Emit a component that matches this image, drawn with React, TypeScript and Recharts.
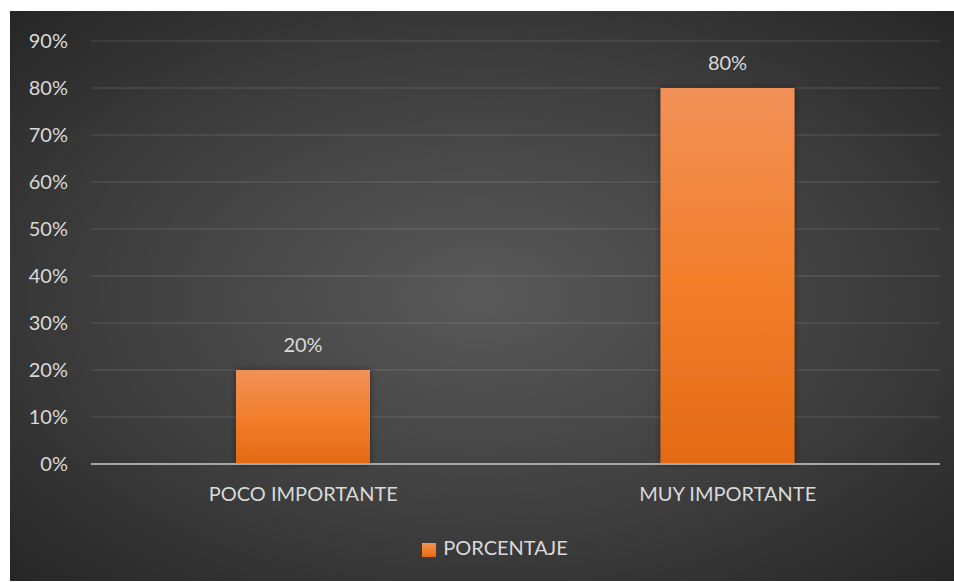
import { BarChart, Bar, XAxis, YAxis, CartesianGrid, Legend, LabelList } from "recharts";

// values
const categories = ["POCO IMPORTANTE", "MUY IMPORTANTE"];
const porcentaje = [0.2, 0.8];
const yTicks = [0, 0.1, 0.2, 0.3, 0.4, 0.5, 0.6, 0.7, 0.8, 0.9];

const data = categories.map((name, i) => ({ name, PORCENTAJE: porcentaje[i] }));

const FONT = "Lato, 'Open Sans', sans-serif";
const TEXT = "#d9d9d9";
const FS = 20;

const pct = (v: number) => `${Math.round(v * 100)}%`;

export default function App() {
  return (
    <div
      style={{
        position: "absolute",
        left: 10,
        top: 11,
        width: 944,
        height: 570,
        background: "radial-gradient(ellipse at 50% 50%, #595959 0%, #3f3f3f 55%, #262626 100%)",
        fontFamily: FONT,
      }}
    >
      <BarChart width={944} height={570} data={data} margin={{ top: 30, right: 14, left: 0, bottom: 0 }}>
        <defs>
          <linearGradient id="barFill" x1="0" y1="0" x2="0" y2="1">
            <stop offset="0%" stopColor="#f19158" />
            <stop offset="50%" stopColor="#f27f2c" />
            <stop offset="100%" stopColor="#e46a15" />
          </linearGradient>
          <filter id="barShadow" x="-20%" y="-20%" width="140%" height="140%">
            <feDropShadow dx="0" dy="0" stdDeviation="3" floodColor="#000" floodOpacity="0.45" />
          </filter>
        </defs>
        <CartesianGrid vertical={false} stroke="#ffffff" strokeOpacity={0.1} strokeWidth={1.5} />
        <XAxis
          dataKey="name"
          height={117}
          axisLine={{ stroke: "#a6a6a6", strokeWidth: 2 }}
          tickLine={false}
          tickSize={6}
          tickMargin={17}
          tick={{ fill: TEXT, fontSize: FS, fontFamily: FONT }}
        />
        <YAxis
          domain={[0, 0.9]}
          ticks={yTicks}
          tickFormatter={pct}
          width={81}
          axisLine={false}
          tickLine={false}
          tickSize={6}
          tickMargin={17}
          tick={{ fill: TEXT, fontSize: FS, fontFamily: FONT }}
          interval={0}
        />
        <Legend
          verticalAlign="middle"
          align="center"
          iconType="square"
          iconSize={14}
          wrapperStyle={{ top: 524, left: 18, width: 944, fontSize: FS, fontFamily: FONT }}
          formatter={(value) => <span style={{ color: TEXT, marginLeft: 3 }}>{value}</span>}
        />
        <Bar
          dataKey="PORCENTAJE"
          fill="url(#barFill)"
          barSize={134}
          filter="url(#barShadow)"
          isAnimationActive={false}
          legendType="square"
        >
          <LabelList
            dataKey="PORCENTAJE"
            position="top"
            offset={18}
            formatter={(v: number) => pct(v)}
            style={{ fill: TEXT, fontSize: FS, fontFamily: FONT }}
          />
        </Bar>
      </BarChart>
    </div>
  );
}
